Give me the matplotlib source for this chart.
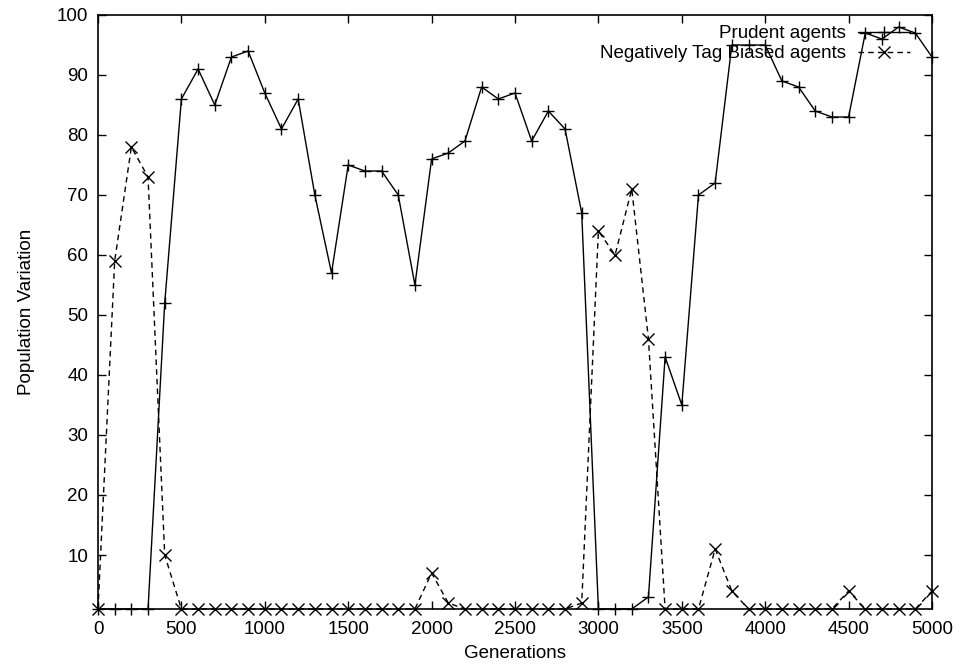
import matplotlib
matplotlib.use("Agg")
import matplotlib.pyplot as plt
import numpy as np

plt.rcParams['font.family'] = ['Liberation Sans', 'DejaVu Sans']

generations = list(range(0, 5001, 100))
prudent = [1, 1, 1, 1, 52, 86, 91, 85, 93, 94,
           87, 81, 86, 70, 57, 75, 74, 74, 70, 55,
           76, 77, 79, 88, 86, 87, 79, 84, 81, 67,
           1, 1, 1, 3, 43, 35, 70, 72, 95, 95,
           95, 89, 88, 84, 83, 83, 97, 96, 98, 97,
           93]
tag_biased = [1, 59, 78, 73, 10, 1, 1, 1, 1, 1,
              1, 1, 1, 1, 1, 1, 1, 1, 1, 1,
              7, 2, 1, 1, 1, 1, 1, 1, 1, 2,
              64, 60, 71, 46, 1, 1, 1, 11, 4, 1,
              1, 1, 1, 1, 1, 4, 1, 1, 1, 1,
              4]
xticks = list(range(0, 5001, 500))
yticks = list(range(10, 101, 10))

fs = 13.5

fig = plt.figure(figsize=(9.57, 6.65), dpi=100)
ax = fig.add_axes([98/957, 1 - 609/665, (932-98)/957, (609-15)/665])

ax.plot(generations, prudent, color='black', lw=1.0, marker='+', ms=9,
        mew=1.0, label='Prudent agents', clip_on=False)
ax.plot(generations, tag_biased, color='black', lw=1.0, ls=(0, (4, 3)),
        marker='x', ms=8, mew=1.0, label='Negatively Tag Biased agents',
        clip_on=False)

ax.set_xlim(0, 5000)
ax.set_ylim(1, 100)
ax.set_xticks(xticks)
ax.set_yticks(yticks)
ax.tick_params(direction='in', length=6, width=1, top=True, right=True,
               labelsize=fs)
ax.tick_params(axis='x', pad=9)
ax.tick_params(axis='y', pad=7)
for s in ax.spines.values():
    s.set_linewidth(1.2)

ax.set_xlabel('Generations', fontsize=fs, labelpad=5)
ax.set_ylabel('Population Variation', fontsize=fs, labelpad=16)

ax.legend(loc='upper right', bbox_to_anchor=((910-98)/834, (609-25)/594),
          frameon=False, markerfirst=False, fontsize=fs, handlelength=2.8,
          handletextpad=0.6, labelspacing=0.15, borderaxespad=0,
          borderpad=0)

fig.savefig('out.png', dpi=100)
